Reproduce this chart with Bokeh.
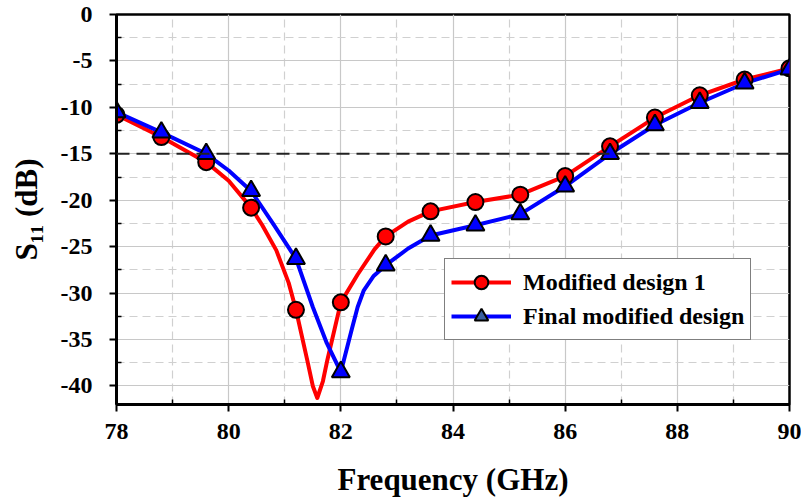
from bokeh.plotting import figure
from bokeh.models import Span, Legend, LegendItem, FixedTicker
from bokeh.embed import file_html
from bokeh.resources import INLINE

# ---- data ----
freq_mk = [78, 78.8, 79.6, 80.4, 81.2, 82, 82.8, 83.6, 84.4, 85.2, 86, 86.8, 87.6, 88.4, 89.2, 90]
mod1_mk = [-10.8, -13.2, -15.9, -20.8, -31.8, -31.0, -23.9, -21.2, -20.2, -19.4, -17.4, -14.2, -11.1, -8.7, -7.0, -5.8]
final_mk = [-10.5, -12.7, -15.0, -19.0, -26.3, -38.5, -27.0, -23.8, -22.7, -21.5, -18.5, -15.0, -11.9, -9.5, -7.4, -5.9]

mod1_x = [78, 78.8, 79.6, 80.0, 80.4, 80.6, 80.85, 81.07, 81.2, 81.4, 81.5, 81.58, 81.68, 81.76, 82, 82.3, 82.6,
          82.8, 83.2, 83.6, 84.4, 85.2, 86, 86.8, 87.6, 88.4, 89.2, 90]
mod1_y = [-10.8, -13.2, -15.9, -17.9, -20.8, -22.7, -25.4, -28.9, -31.8, -37.2, -40.0, -41.3, -39.5, -37.2, -31.0, -28.0,
          -25.3, -23.9, -22.3, -21.2, -20.2, -19.4, -17.4, -14.2, -11.1, -8.7, -7.0, -5.8]

final_x = [78, 78.8, 79.6, 80.0, 80.4, 80.8, 81.2, 81.5, 81.75, 82, 82.2, 82.3, 82.41, 82.58, 82.8, 83.2, 83.6, 84.4,
           85.2, 86, 86.8, 87.6, 88.4, 89.2, 90]
final_y = [-10.5, -12.7, -15.0, -16.8, -19.0, -22.6, -26.3, -31.5, -35.4, -38.5, -33.8, -31.5, -29.7, -28.2, -27.0,
           -25.2, -23.8, -22.7, -21.5, -18.5, -15.0, -11.9, -9.5, -7.4, -5.9]

x_ticks = [78, 80, 82, 84, 86, 88, 90]
y_ticks = [-40, -35, -30, -25, -20, -15, -10, -5, 0]
x_minor = [79, 81, 83, 85, 87, 89]
y_minor = [-37.5, -32.5, -27.5, -22.5, -17.5, -12.5, -7.5, -2.5]
threshold = -15

FONT = "Liberation Serif"

p = figure(frame_width=673, frame_height=390, x_range=(78, 90), y_range=(-42, 0),
           output_backend="svg", toolbar_location=None,
           min_border_left=116, min_border_right=12, min_border_top=14, min_border_bottom=97)
p.background_fill_color = "white"
p.border_fill_color = "white"
p.outline_line_color = "black"
p.outline_line_width = 2.5

# grids
for g in (p.xgrid[0], p.ygrid[0]):
    g.grid_line_color = "#c8c8c8"
    g.grid_line_width = 1.2
    g.minor_grid_line_color = "#d0d0d0"
    g.minor_grid_line_width = 1.2
    g.minor_grid_line_dash = "8 5"

p.xaxis.ticker = FixedTicker(ticks=x_ticks, minor_ticks=x_minor)
p.yaxis.ticker = FixedTicker(ticks=y_ticks, minor_ticks=y_minor)
p.yaxis.major_label_overrides = {t: str(t) for t in y_ticks}
p.xaxis.major_label_overrides = {t: str(t) for t in x_ticks}

for ax in (p.xaxis[0], p.yaxis[0]):
    ax.axis_line_width = 3
    ax.axis_line_color = "black"
    ax.major_tick_line_width = 2
    ax.major_tick_out = 7
    ax.major_tick_in = 0
    ax.minor_tick_line_width = 1.5
    ax.minor_tick_in = 5
    ax.minor_tick_out = 0
    ax.major_label_text_font = FONT
    ax.major_label_text_font_style = "bold"
    ax.major_label_text_font_size = "24px"
    ax.major_label_text_color = "black"
    ax.axis_label_text_font = FONT
    ax.axis_label_text_font_style = "bold"
    ax.axis_label_text_font_size = "31px"
    ax.axis_label_text_color = "black"

p.xaxis.axis_label = "Frequency (GHz)"
p.xaxis.major_label_standoff = 12
p.xaxis.axis_label_standoff = 20
p.yaxis.axis_label = "S\u2081\u2081 (dB)"
p.yaxis.major_label_standoff = 17
p.yaxis.axis_label_standoff = 14

# threshold line
p.add_layout(Span(location=threshold, dimension="width", line_color="#222222",
                  line_width=2, line_dash="13 7"))

# curves
p.line(mod1_x, mod1_y, line_color="#ff0000", line_width=4, line_join="round")
p.line(final_x, final_y, line_color="#0000ff", line_width=4, line_join="round")
p.scatter(freq_mk, mod1_mk, marker="circle", size=16, fill_color="#ff0000",
          line_color="black", line_width=2)
p.scatter(freq_mk, final_mk, marker="triangle", size=18, fill_color="#0000ff",
          line_color="black", line_width=2)

# legend-only renderers (points lie outside the visible range)
lr1 = p.line([-100, -99], [100, 100], line_color="#ff0000", line_width=4)
ls1 = p.scatter([-100], [100], marker="circle", size=18, fill_color="#ff0000", line_color="black", line_width=2)
lr2 = p.line([-100, -99], [100, 100], line_color="#0000ff", line_width=4)
ls2 = p.scatter([-100], [100], marker="triangle", size=22, fill_color="#3a5f9f", line_color="black", line_width=2)

legend = Legend(items=[LegendItem(label="Modified design 1", renderers=[lr1, ls1]),
                       LegendItem(label="Final modified design", renderers=[lr2, ls2])],
                location=(328, 64))
legend.label_text_font = FONT
legend.label_text_font_style = "bold"
legend.label_text_font_size = "24px"
legend.label_text_color = "black"
legend.glyph_width = 60
legend.glyph_height = 34
legend.label_height = 34
legend.label_standoff = 12
legend.spacing = 0
legend.padding = 6
legend.margin = 0
legend.border_line_color = "black"
legend.border_line_width = 1.5
legend.background_fill_color = "white"
legend.background_fill_alpha = 1
p.add_layout(legend, "center")

open("out.html", "w").write(file_html(p, INLINE))
